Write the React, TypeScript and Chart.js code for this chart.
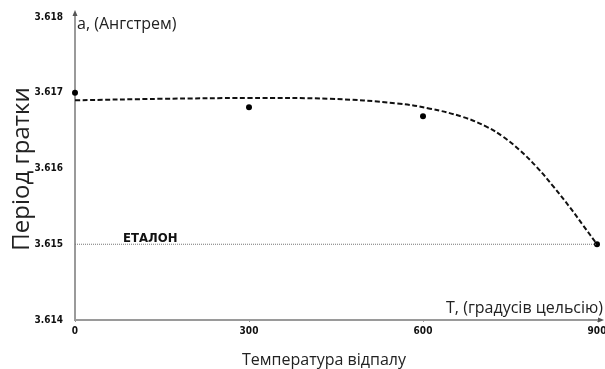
import React, { useEffect, useRef } from "react";
import { Chart, registerables } from "chart.js";

Chart.register(...registerables);

// Measured lattice period at each annealing temperature
const temperatures = [0, 300, 600, 900];
const latticePeriod = [3.617, 3.61681, 3.61669, 3.615];

// Smooth trend line through the measurements
const fitTemperatures = [0, 150, 300, 440, 555, 612, 669, 710, 738, 767, 796, 825, 853, 876, 900];
const fitPeriod = [
  3.6169, 3.61692, 3.61693, 3.61692, 3.61686, 3.61679, 3.61668, 3.61655, 3.61642, 3.61624, 3.61602, 3.61576,
  3.61549, 3.61525, 3.615,
];

// Reference (etalon) value
const etalonPeriod = 3.615;

const xTicks = [0, 300, 600, 900];
const yTicks = [3.614, 3.615, 3.616, 3.617, 3.618];

const TEXT = "#222";
const AXIS = "#9a9a9a";
const SANS = "'Open Sans', 'Noto Sans', sans-serif";
const NARROW = "'DejaVu Sans Condensed', 'Liberation Sans Narrow', sans-serif";

const annotations = {
  id: "annotations",
  afterDraw(chart: any) {
    const { ctx, chartArea } = chart;
    const { left, right, top, bottom } = chartArea;
    ctx.save();

    // axis extensions with arrowheads
    ctx.strokeStyle = AXIS;
    ctx.lineWidth = 2;
    ctx.beginPath();
    ctx.moveTo(left, top);
    ctx.lineTo(left, top - 3);
    ctx.moveTo(right, bottom);
    ctx.lineTo(right + 3, bottom);
    ctx.stroke();
    ctx.fillStyle = "#555";
    ctx.beginPath();
    ctx.moveTo(left, top - 7);
    ctx.lineTo(left - 2.5, top - 1);
    ctx.lineTo(left + 2.5, top - 1);
    ctx.closePath();
    ctx.fill();
    ctx.beginPath();
    ctx.moveTo(right + 7, bottom);
    ctx.lineTo(right + 1, bottom - 2.5);
    ctx.lineTo(right + 1, bottom + 2.5);
    ctx.closePath();
    ctx.fill();

    ctx.fillStyle = TEXT;
    ctx.textBaseline = "alphabetic";

    // axis captions
    ctx.font = `16px ${SANS}`;
    ctx.textAlign = "left";
    ctx.fillText("a, (Ангстрем)", left + 2, 29);
    ctx.textAlign = "right";
    ctx.fillText("T, (градусів цельсію)", 603, 313);

    ctx.textAlign = "center";
    ctx.fillText("Температура відпалу", 324, 365);

    // y title
    ctx.save();
    ctx.translate(29, 169);
    ctx.rotate(-Math.PI / 2);
    ctx.font = `24px ${SANS}`;
    ctx.fillText("Період гратки", 0, 0);
    ctx.restore();

    // etalon label
    const yEt = chart.scales.y.getPixelForValue(etalonPeriod);
    ctx.fillStyle = "#111";
    ctx.font = `bold 13px ${NARROW}`;
    ctx.textAlign = "left";
    ctx.fillText("ЕТАЛОН", 123, yEt - 2);

    ctx.restore();
  },
};

export default function App() {
  const ref = useRef<HTMLCanvasElement | null>(null);

  useEffect(() => {
    if (!ref.current) return;
    const chart = new Chart(ref.current, {
      type: "line",
      data: {
        datasets: [
          {
            label: "etalon",
            data: [
              { x: xTicks[0], y: etalonPeriod },
              { x: xTicks[xTicks.length - 1], y: etalonPeriod },
            ],
            borderColor: "#777",
            borderWidth: 1,
            borderDash: [1, 1],
            pointRadius: 0,
            clip: false,
          },
          {
            label: "fit",
            data: fitTemperatures.map((t, i) => ({ x: t, y: fitPeriod[i] })),
            borderColor: "#111",
            borderWidth: 2,
            borderDash: [5, 2.5],
            pointRadius: 0,
            tension: 0.4,
            clip: false,
          },
          {
            label: "measured",
            data: temperatures.map((t, i) => ({ x: t, y: latticePeriod[i] })),
            showLine: false,
            pointRadius: 3,
            pointBackgroundColor: "#000",
            pointBorderColor: "#000",
            pointBorderWidth: 0,
            clip: false,
          },
        ],
      },
      options: {
        responsive: false,
        animation: false,
        devicePixelRatio: 1,
        layout: { padding: { left: 0, right: 8, top: 17, bottom: 29 } },
        plugins: {
          legend: { display: false },
          tooltip: { enabled: false },
          title: { display: false },
        },
        scales: {
          x: {
            type: "linear",
            min: 0,
            max: 900,
            afterBuildTicks: (s: any) => {
              s.ticks = xTicks.map((v) => ({ value: v }));
            },
            afterFit: (s: any) => {
              s.height = 20;
              s.paddingLeft = 0;
              s.paddingRight = 0;
            },
            grid: { display: true, drawOnChartArea: false, tickLength: 2, color: AXIS },
            border: { display: true, color: AXIS, width: 2 },
            ticks: {
              color: "#111",
              padding: 3,
              maxRotation: 0,
              font: { family: NARROW, size: 10, weight: "bold" },
              callback: (v: any) => String(v),
            },
          },
          y: {
            type: "linear",
            min: 3.614,
            max: 3.618,
            afterBuildTicks: (s: any) => {
              s.ticks = yTicks.map((v) => ({ value: v }));
            },
            afterFit: (s: any) => {
              s.width = 75;
              s.paddingTop = 0;
              s.paddingBottom = 0;
            },
            grid: { display: false },
            border: { display: true, color: AXIS, width: 2 },
            ticks: {
              color: "#111",
              padding: 4,
              font: { family: NARROW, size: 10, weight: "bold" },
              callback: (v: any) => Number(v).toFixed(3),
            },
          },
        },
      },
      plugins: [annotations],
    } as any);
    return () => chart.destroy();
  }, []);

  return (
    <div style={{ position: "absolute", left: 0, top: 0, width: 605, height: 369, background: "#fff" }}>
      <canvas ref={ref} width={605} height={369} style={{ display: "block" }} />
    </div>
  );
}
